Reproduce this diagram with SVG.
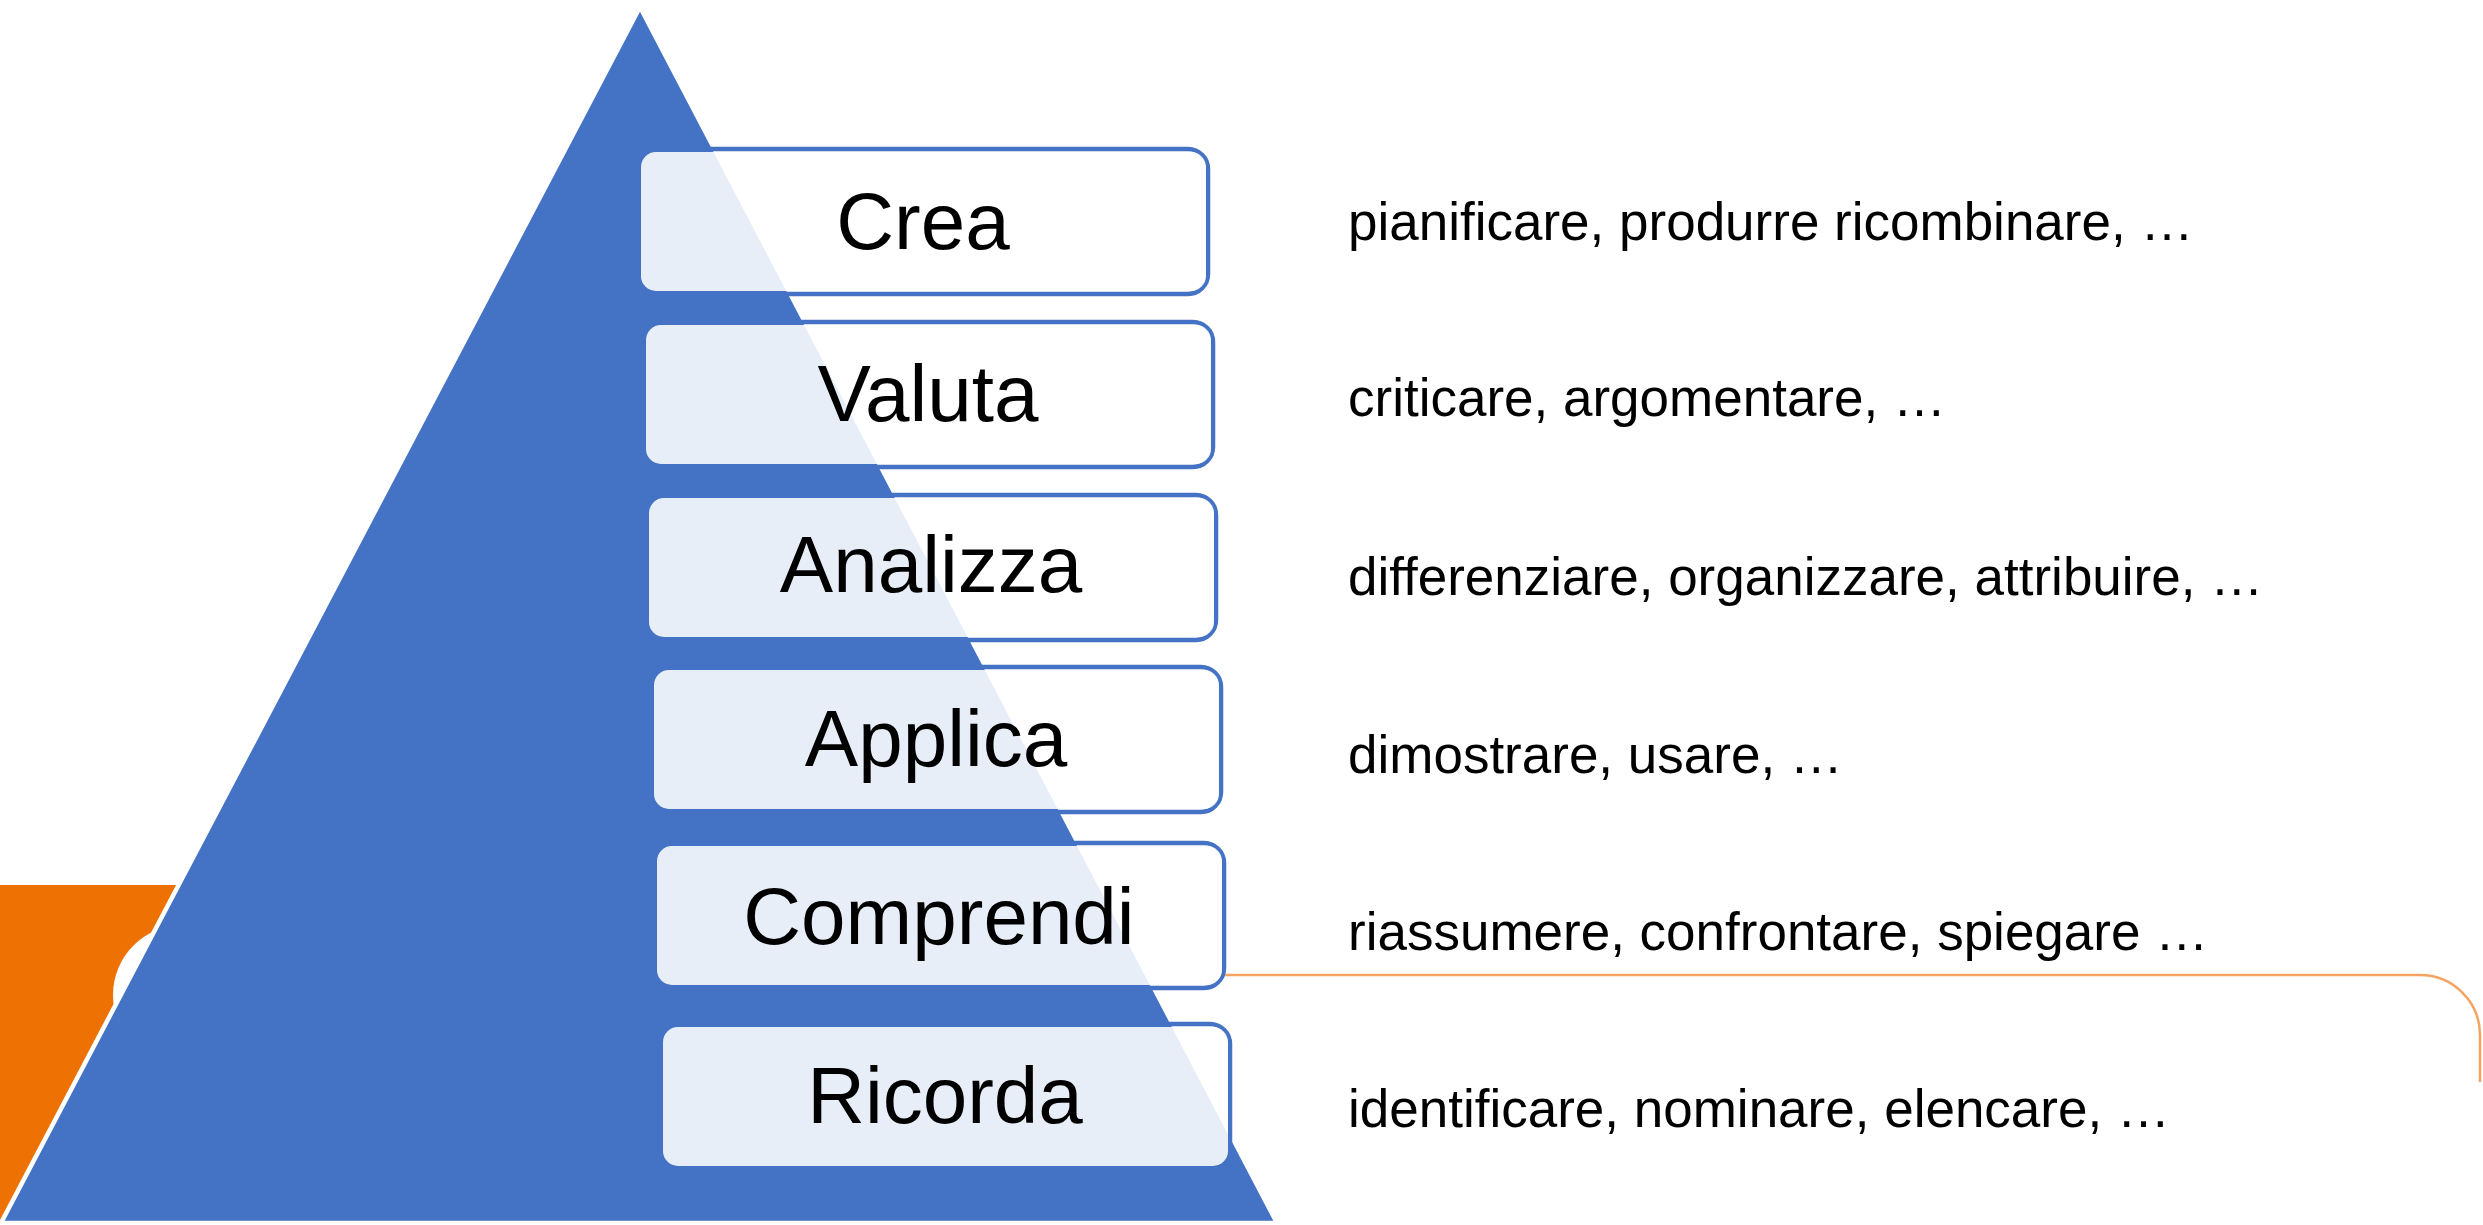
<svg xmlns="http://www.w3.org/2000/svg" width="2483" height="1225" viewBox="0 0 2483 1225">
  <style>
    .lbl { font-family: "Liberation Sans", Arial, sans-serif; font-size: 80px; fill: #000; text-anchor: middle; }
    .desc { font-family: "Liberation Sans", Arial, sans-serif; font-size: 53px; fill: #000; }
    .fill { fill: #ffffff; fill-opacity: 0.88; }
    .frame { fill: none; stroke: #4472C4; stroke-width: 4.5; }
    .conn { fill: none; stroke: #F4A460; stroke-width: 2.5; }
  </style>
  <rect width="2483" height="1225" fill="#ffffff"/>
  <g id="background">
    <polygon points="0,885 184,885 0,1235" fill="#EE7203"/>
    <circle cx="183" cy="995" r="70" fill="#ffffff"/>
    <polygon id="pyramid" points="640,7 1,1223 1277,1223" fill="#4472C4" stroke="#ffffff" stroke-width="4.5" stroke-linejoin="miter"/>
  </g>
  <g id="connectors">
    <path class="conn" d="M 1225 975 H 2420 A 60 60 0 0 1 2480 1035 V 1082"/>
  </g>
  <g id="node-crea">
    <rect class="frame" x="643" y="149" width="565" height="145" rx="20"/>
    <rect class="fill" x="641" y="152" width="565" height="139" rx="15"/>
    <text class="lbl" x="923" y="249">Crea</text>
  </g>
  <g id="node-valuta">
    <rect class="frame" x="648" y="322" width="565" height="145" rx="20"/>
    <rect class="fill" x="646" y="325" width="565" height="139" rx="15"/>
    <text class="lbl" x="928" y="421">Valuta</text>
  </g>
  <g id="node-analizza">
    <rect class="frame" x="651" y="495" width="565" height="145" rx="20"/>
    <rect class="fill" x="649" y="498" width="565" height="139" rx="15"/>
    <text class="lbl" x="931" y="592">Analizza</text>
  </g>
  <g id="node-applica">
    <rect class="frame" x="656" y="667" width="565" height="145" rx="20"/>
    <rect class="fill" x="654" y="670" width="565" height="139" rx="15"/>
    <text class="lbl" x="936" y="766">Applica</text>
  </g>
  <g id="node-comprendi">
    <rect class="frame" x="659" y="843" width="565" height="145" rx="20"/>
    <rect class="fill" x="657" y="846" width="565" height="139" rx="15"/>
    <text class="lbl" x="939" y="944">Comprendi</text>
  </g>
  <g id="node-ricorda">
    <rect class="frame" x="665" y="1024" width="565" height="145" rx="20"/>
    <rect class="fill" x="663" y="1027" width="565" height="139" rx="15"/>
    <text class="lbl" x="945" y="1123">Ricorda</text>
  </g>
  <g id="descriptions">
    <text class="desc" x="1348" y="240">pianificare, produrre ricombinare, …</text>
    <text class="desc" x="1348" y="416">criticare, argomentare, …</text>
    <text class="desc" x="1348" y="595">differenziare, organizzare, attribuire, …</text>
    <text class="desc" x="1348" y="773">dimostrare, usare, …</text>
    <text class="desc" x="1348" y="950">riassumere, confrontare, spiegare …</text>
    <text class="desc" x="1348" y="1127">identificare, nominare, elencare, …</text>
  </g>
</svg>
